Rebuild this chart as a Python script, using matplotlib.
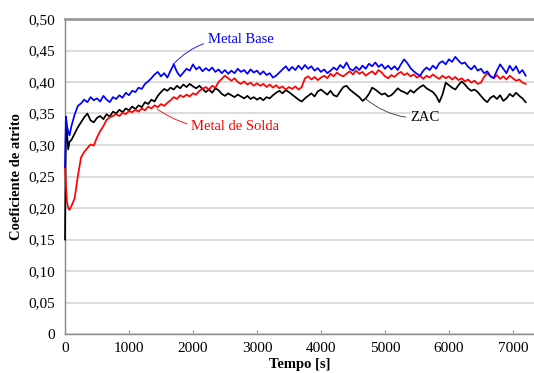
import numpy as np
import matplotlib
matplotlib.use('Agg')
import matplotlib.pyplot as plt

plt.rcParams['font.family'] = ['Liberation Serif', 'DejaVu Serif']

# tempo [s]: inicio detalhado + passo de 50 s
tempo = np.array([0, 15, 30, 50, 70] + list(range(100, 7201, 50)))

metal_base = [0.265, 0.345, 0.330, 0.322, 0.315,
    0.330, 0.348, 0.362, 0.366, 0.372, 0.368, 0.376, 0.371, 0.374, 0.369,
    0.378, 0.372, 0.368, 0.376, 0.373, 0.379, 0.375, 0.383, 0.379, 0.386,
    0.384, 0.391, 0.389, 0.397, 0.401, 0.406, 0.412, 0.416, 0.409, 0.414,
    0.407, 0.418, 0.428, 0.416, 0.409, 0.415, 0.421, 0.418, 0.428, 0.420,
    0.424, 0.417, 0.422, 0.418, 0.423, 0.416, 0.420, 0.414, 0.419, 0.413,
    0.418, 0.414, 0.421, 0.416, 0.419, 0.413, 0.420, 0.415, 0.418, 0.412,
    0.417, 0.411, 0.414, 0.407, 0.410, 0.415, 0.420, 0.425, 0.418, 0.424,
    0.419, 0.426, 0.420, 0.427, 0.421, 0.425, 0.418, 0.422, 0.416, 0.420,
    0.414, 0.418, 0.423, 0.419, 0.427, 0.422, 0.431, 0.421, 0.418, 0.424,
    0.419, 0.426, 0.421, 0.429, 0.425, 0.431, 0.424, 0.428, 0.421, 0.426,
    0.420, 0.425, 0.419, 0.428, 0.436, 0.430, 0.422, 0.417, 0.413, 0.410,
    0.418, 0.423, 0.419, 0.426, 0.421, 0.430, 0.433, 0.428, 0.436, 0.432,
    0.440, 0.434, 0.429, 0.431, 0.424, 0.420, 0.426, 0.418, 0.421, 0.414,
    0.417, 0.409, 0.406, 0.418, 0.428, 0.421, 0.414, 0.426, 0.418, 0.425,
    0.414, 0.419, 0.410]

metal_solda = [0.266, 0.235, 0.210, 0.200, 0.197,
    0.203, 0.215, 0.250, 0.280, 0.289, 0.295, 0.301, 0.299, 0.312, 0.322,
    0.330, 0.340, 0.344, 0.346, 0.349, 0.346, 0.351, 0.349, 0.354, 0.352,
    0.356, 0.353, 0.358, 0.355, 0.361, 0.358, 0.363, 0.360, 0.365, 0.362,
    0.367, 0.371, 0.376, 0.373, 0.379, 0.376, 0.380, 0.377, 0.382, 0.380,
    0.386, 0.389, 0.392, 0.388, 0.394, 0.391, 0.400, 0.405, 0.410, 0.406,
    0.402, 0.406, 0.400, 0.397, 0.401, 0.396, 0.399, 0.394, 0.398, 0.394,
    0.397, 0.392, 0.396, 0.391, 0.395, 0.390, 0.393, 0.388, 0.392, 0.389,
    0.393, 0.388, 0.392, 0.406, 0.409, 0.404, 0.408, 0.403, 0.407, 0.410,
    0.406, 0.413, 0.409, 0.415, 0.411, 0.409, 0.413, 0.417, 0.412, 0.418,
    0.413, 0.416, 0.410, 0.414, 0.417, 0.412, 0.419, 0.415, 0.409, 0.406,
    0.411, 0.408, 0.413, 0.416, 0.411, 0.414, 0.409, 0.412, 0.407, 0.410,
    0.405, 0.410, 0.407, 0.412, 0.408, 0.405, 0.410, 0.406, 0.409, 0.404,
    0.408, 0.403, 0.406, 0.401, 0.404, 0.399, 0.402, 0.397, 0.399, 0.408,
    0.414, 0.409, 0.406, 0.411, 0.405, 0.409, 0.404, 0.410, 0.406, 0.402,
    0.404, 0.399, 0.397]

zac = [0.150, 0.345, 0.320, 0.293, 0.305,
    0.308, 0.318, 0.328, 0.336, 0.344, 0.350, 0.339, 0.336, 0.343, 0.346,
    0.341, 0.349, 0.345, 0.353, 0.350, 0.356, 0.352, 0.358, 0.355, 0.361,
    0.357, 0.363, 0.360, 0.368, 0.365, 0.372, 0.369, 0.378, 0.384, 0.389,
    0.386, 0.391, 0.388, 0.394, 0.390, 0.396, 0.392, 0.397, 0.393, 0.390,
    0.394, 0.389, 0.384, 0.388, 0.383, 0.390, 0.387, 0.381, 0.378, 0.382,
    0.379, 0.376, 0.380, 0.377, 0.374, 0.378, 0.373, 0.376, 0.372, 0.375,
    0.371, 0.376, 0.374, 0.379, 0.383, 0.386, 0.382, 0.387, 0.384, 0.380,
    0.376, 0.372, 0.369, 0.374, 0.378, 0.382, 0.377, 0.385, 0.388, 0.384,
    0.380, 0.386, 0.379, 0.377, 0.385, 0.392, 0.394, 0.388, 0.384, 0.380,
    0.376, 0.370, 0.374, 0.381, 0.391, 0.388, 0.384, 0.380, 0.382, 0.377,
    0.379, 0.384, 0.390, 0.386, 0.384, 0.381, 0.387, 0.383, 0.388, 0.392,
    0.395, 0.390, 0.387, 0.384, 0.378, 0.368, 0.380, 0.399, 0.395, 0.391,
    0.388, 0.395, 0.401, 0.396, 0.390, 0.386, 0.388, 0.384, 0.378, 0.372,
    0.368, 0.375, 0.378, 0.373, 0.379, 0.370, 0.374, 0.381, 0.377, 0.383,
    0.378, 0.374, 0.368]

yticks = np.arange(0, 0.501, 0.05)
ylabels = ['0'] + ['%.2f' % v for v in yticks[1:]]
ylabels = [s.replace('.', ',') for s in ylabels]
xticks = np.arange(0, 7001, 1000)

fig = plt.figure(figsize=(5.34, 3.73), dpi=100)
ax = fig.add_axes([65/534, 1 - 334/373, 1 - 65/534, (334 - 19)/373])

# linhas acima dos eixos para o trecho inicial aparecer sobre o eixo y
ax.plot(tempo, zac, color='black', lw=1.25, zorder=3, clip_on=False)
ax.plot(tempo, metal_solda, color='#ff0000', lw=1.25, zorder=3, clip_on=False)
ax.plot(tempo, metal_base, color='#0000ff', lw=1.25, zorder=3, clip_on=False)

ax.set_xlim(0, 7330)
ax.set_ylim(0, 0.50)
ax.set_yticks(yticks)
ax.set_yticklabels(ylabels)
ax.set_xticks(xticks)
ax.grid(axis='y', color='#d9d9d9', lw=1.3)
ax.set_axisbelow(True)
ax.tick_params(axis='y', length=0, pad=7, labelsize=11)
ax.tick_params(axis='x', direction='in', length=3, color='#888888', pad=6, labelsize=11)

for s in ['left', 'bottom']:
    ax.spines[s].set_color('#888888')
    ax.spines[s].set_linewidth(1.0)
ax.spines['top'].set_color('#999999')
ax.spines['top'].set_linewidth(2.0)
ax.spines['right'].set_visible(False)

ax.set_xlabel('Tempo [s]', fontweight='bold', fontsize=10.5, labelpad=2)
ax.set_ylabel('Coeficiente de atrito', fontweight='bold', fontsize=10.5, labelpad=4)

ax.annotate('Metal Base', xy=(1690, 0.428), xytext=(2230, 0.467), color='#0000ff',
            fontsize=10.5, va='center', ha='left',
            arrowprops=dict(arrowstyle='-', color='#0000ff', lw=0.6,
                            connectionstyle='arc3,rad=0.25', shrinkA=1, shrinkB=0))
ax.annotate('Metal de Solda', xy=(1440, 0.357), xytext=(1975, 0.329), color='#ff0000',
            fontsize=10.5, va='center', ha='left',
            arrowprops=dict(arrowstyle='-', color='#ff0000', lw=0.6,
                            connectionstyle='arc3,rad=-0.2', shrinkA=1, shrinkB=0))
ax.annotate('ZAC', xy=(4690, 0.374), xytext=(5390, 0.343), color='black',
            fontsize=10.5, va='center', ha='left',
            arrowprops=dict(arrowstyle='-', color='#333333', lw=0.6,
                            connectionstyle='arc3,rad=-0.2', shrinkA=1, shrinkB=0))

fig.savefig('out.png', dpi=100)
